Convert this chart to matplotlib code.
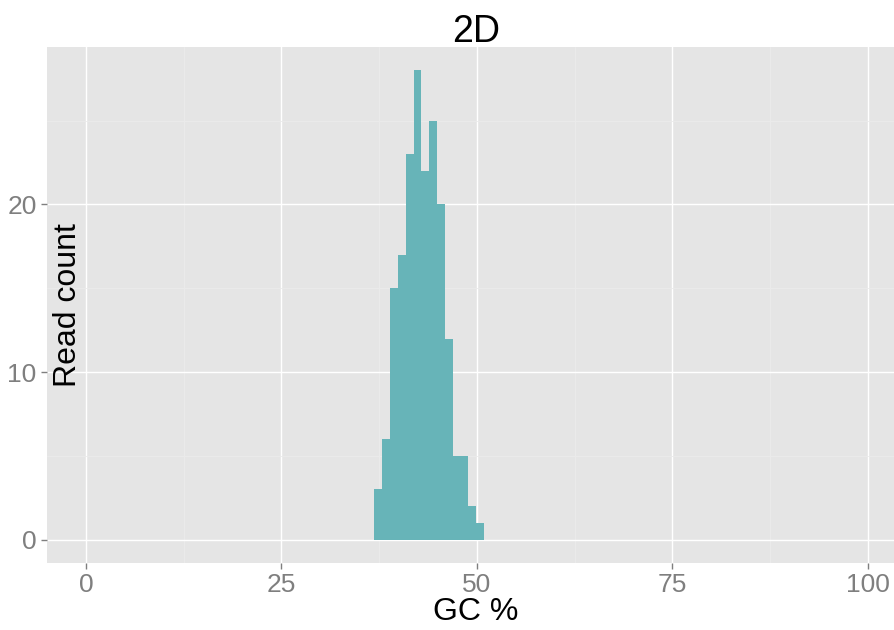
import matplotlib
matplotlib.use("Agg")
import matplotlib.pyplot as plt
import numpy as np

plt.rcParams['font.family'] = ['Liberation Sans', 'DejaVu Sans']

# histogram of GC content, bin width 1
bin_edges = [36.9, 37.9, 38.9, 39.9, 40.9, 41.9, 42.9, 43.9, 44.9,
             45.9, 46.9, 47.9, 48.9, 49.9, 50.9]
read_counts = [3, 6, 15, 17, 23, 28, 22, 25, 20, 12, 5, 5, 2, 1]

x_ticks = [0, 25, 50, 75, 100]
y_ticks = [0, 10, 20]

fig = plt.figure(figsize=(8.95, 6.3), dpi=100)
ax = fig.add_axes([47/895, 67/630, 1 - 47/895, (563 - 47)/630])
ax.set_facecolor('#e5e5e5')

ax.bar(bin_edges[:-1], read_counts, width=np.diff(bin_edges), align='edge',
       color='#67b4b8', edgecolor='none', zorder=3)

ax.set_xlim(-5, 103.5)
ax.set_ylim(-1.4, 29.4)
ax.set_xticks(x_ticks)
ax.set_yticks(y_ticks)
ax.set_xticks([12.5, 37.5, 62.5, 87.5], minor=True)
ax.set_yticks([5, 15, 25], minor=True)
ax.grid(which='major', color='white', linewidth=1.0, zorder=1)
ax.grid(which='minor', color='#ebebeb', linewidth=0.6, zorder=1)
ax.tick_params(which='major', colors='#7f7f7f', labelsize=19, length=4, width=1)
ax.tick_params(which='minor', length=0)
for s in ax.spines.values():
    s.set_visible(False)

fig.text(476/895, 1 - 32/630, '2D', ha='center', va='center', fontsize=27)
fig.text(476/895, 1 - 612/630, 'GC %', ha='center', va='center', fontsize=23)
fig.text(68/895, 1 - 305/630, 'Read count', ha='center', va='center',
         rotation=90, fontsize=23)

fig.savefig('out.png', dpi=100)
